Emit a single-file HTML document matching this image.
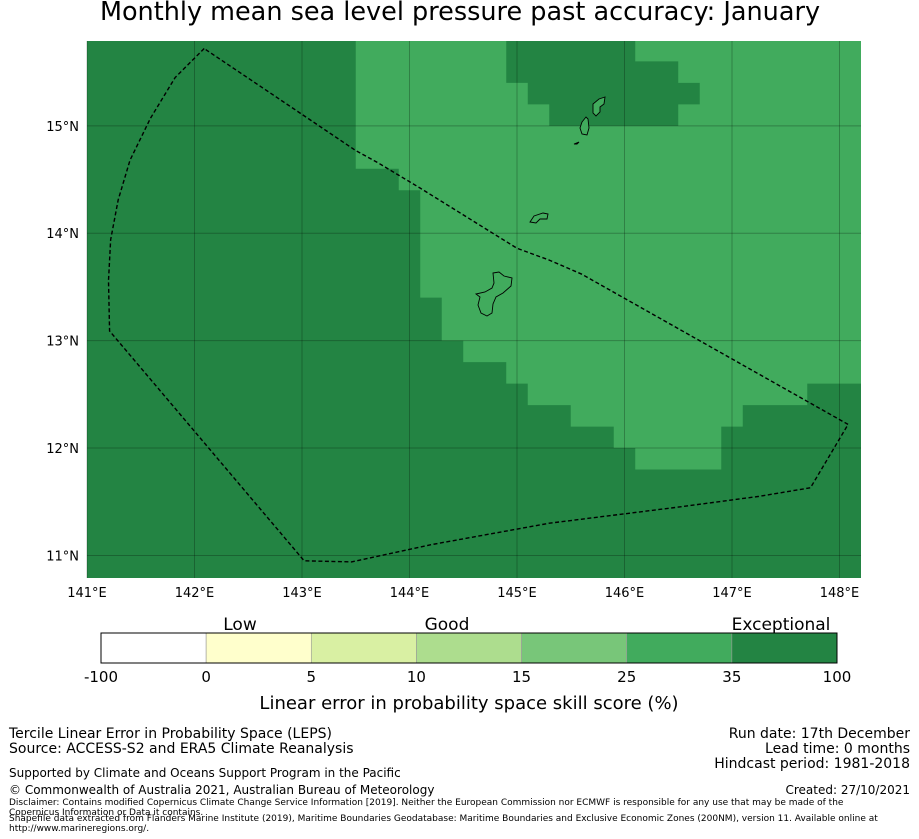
<!DOCTYPE html>
<html><head><meta charset="utf-8"><style>
body{margin:0;background:#fff;width:919px;height:839px;overflow:hidden;font-family:"DejaVu Sans","Liberation Sans",sans-serif;}
svg{display:block}
</style></head><body>
<svg width="919" height="839" xmlns="http://www.w3.org/2000/svg">
<text x="460" y="20" text-anchor="middle" font-size="25.5">Monthly mean sea level pressure past accuracy: January</text>
<g id="map"></g>
<g id="axes"></g>
<g id="cbar"></g>
<g font-size="14">
<text x="9" y="738">Tercile Linear Error in Probability Space (LEPS)</text>
<text x="9" y="753">Source: ACCESS-S2 and ERA5 Climate Reanalysis</text>
<text x="910" y="738" text-anchor="end">Run date: 17th December</text>
<text x="910" y="753" text-anchor="end">Lead time: 0 months</text>
<text x="910" y="768" text-anchor="end">Hindcast period: 1981-2018</text>
<text x="9" y="777" font-size="12">Supported by Climate and Oceans Support Program in the Pacific</text>
<text x="9" y="794" font-size="12">© Commonwealth of Australia 2021, Australian Bureau of Meteorology</text>
<text x="910" y="794" text-anchor="end" font-size="12">Created: 27/10/2021</text>
<text x="9" y="805" font-size="9">Disclaimer: Contains modified Copernicus Climate Change Service Information [2019]. Neither the European Commission nor ECMWF is responsible for any use that may be made of the</text>
<text x="9" y="815" font-size="9">Copernicus Information or Data it contains.</text>
<text x="9" y="821" font-size="9">Shapefile data extracted from Flanders Marine Institute (2019), Maritime Boundaries Geodatabase: Maritime Boundaries and Exclusive Economic Zones (200NM), version 11. Available online at</text>
<text x="9" y="831" font-size="9">http://www.marineregions.org/.</text>
</g>
</svg>
<script>
const NS="http://www.w3.org/2000/svg";
const lonMin=141,lonMax=148.2,latMin=10.79,latMax=15.79;
const X0=87,X1=861,Y0=41,Y1=578;
const lonTicks=[141,142,143,144,145,146,147,148];
const latTicks=[11,12,13,14,15];
// light (25-35) skill region outline, lon/lat
const goodLon=[143.5,144.9,144.9,145.1,145.1,145.3,145.3,146.5,146.5,146.7,146.7,146.5,146.5,146.1,146.1,148.2,148.2,147.7,147.7,147.1,147.1,146.9,146.9,146.1,146.1,145.9,145.9,145.5,145.5,145.1,145.1,144.9,144.9,144.5,144.5,144.3,144.3,144.1,144.1,143.9,143.9,143.5];
const goodLat=[15.79,15.79,15.4,15.4,15.2,15.2,15.0,15.0,15.2,15.2,15.4,15.4,15.6,15.6,15.79,15.79,12.6,12.6,12.4,12.4,12.2,12.2,11.8,11.8,12.0,12.0,12.2,12.2,12.4,12.4,12.6,12.6,12.8,12.8,13.0,13.0,13.4,13.4,14.4,14.4,14.6,14.6];
// EEZ boundary
const eezLon=[142.09,141.82,141.59,141.40,141.29,141.22,141.20,141.21,143.02,143.46,144.2,145.3,146.5,147.25,147.73,148.08,145.6,145.3,145.0,144.1,143.7,143.5,142.09];
const eezLat=[15.72,15.45,15.07,14.68,14.31,13.94,13.56,13.09,10.95,10.94,11.1,11.3,11.45,11.55,11.63,12.22,13.62,13.75,13.86,14.42,14.66,14.77,15.72];
const cbColors=["#ffffff","#ffffcc","#d9f0a3","#addd8e","#78c679","#41ab5d","#238443"];
const cbTicks=["-100","0","5","10","15","25","35","100"];
const px=l=>X0+(l-lonMin)/(lonMax-lonMin)*(X1-X0);
const py=l=>Y0+(latMax-l)/(latMax-latMin)*(Y1-Y0);
function mk(t,a,p){const e=document.createElementNS(NS,t);for(const k in a)e.setAttribute(k,a[k]);p.appendChild(e);return e;}
const map=document.getElementById('map'),axes=document.getElementById('axes'),cb=document.getElementById('cbar');
let r=mk('rect',{x:X0,y:Y0,width:X1-X0,height:Y1-Y0,fill:"#238443"},map);


let g=mk('polygon',{points:goodLon.map((v,i)=>px(v)+","+py(goodLat[i])).join(" "),fill:"#41ab5d"},map);


lonTicks.forEach(l=>{const x=px(l);
 let ln=mk('line',{x1:x,x2:x,y1:Y0,y2:Y1,stroke:"rgba(0,0,0,0.25)","stroke-width":1},map);
 
 
 let t=mk('text',{x:x,y:597,"text-anchor":"middle","font-size":13},axes);t.textContent=l+"°E";
 
 });
latTicks.forEach(l=>{const y=py(l);
 let ln=mk('line',{x1:X0,x2:X1,y1:y,y2:y,stroke:"rgba(0,0,0,0.25)","stroke-width":1},map);
 
 
 let t=mk('text',{x:79,y:y+5,"text-anchor":"end","font-size":13},axes);t.textContent=l+"°N";
 
 });
const islands=[
 "M493,273 L499,272 L504,276 L512,278 L511,286 L503,293 L496,297 L493,304 L492,313 L487,316 L481,313 L478,305 L480,297 L476,294 L485,292 L492,288 L494,283 Z",
 "M530,222 L534,216 L543,213 L548,214 L547,219 L540,219 L536,223 Z",
 "M593,104 L599,99 L605,97 L604,104 L600,107 L600,112 L596,116 L593,113 Z",
 "M582,122 L586,117 L588,119 L589,128 L587,135 L582,134 L580,128 Z",
 "M574,144 L579,142 L577,144 Z"];
islands.forEach(d=>{let p=mk('path',{d:d,fill:"#41ab5d",stroke:"#000","stroke-width":0.9},map);
 
 });
let e=mk('polyline',{points:eezLon.map((v,i)=>px(v)+","+py(eezLat[i])).join(" "),fill:"none",stroke:"#000","stroke-width":1.4,"stroke-dasharray":"4,2.5"},map);


const CX0=101,CX1=837,CY=633,CH=30,w=(CX1-CX0)/cbColors.length;
cbColors.forEach((c,i)=>{let s=mk('rect',{x:CX0+i*w,y:CY,width:w,height:CH,fill:c,stroke:"#999","stroke-width":0.6},cb);
 
 });
mk('rect',{x:CX0,y:CY,width:CX1-CX0,height:CH,fill:"none",stroke:"#000","stroke-width":1},cb);
cbTicks.forEach((t,i)=>{let x=CX0+i*w;
 let tx=mk('text',{x:x,y:682,"text-anchor":"middle","font-size":15},cb);tx.textContent=t;
 
 });
[["Low",240],["Good",447],["Exceptional",781]].forEach(([t,x])=>{let tx=mk('text',{x:x,y:630,"text-anchor":"middle","font-size":17},cb);tx.textContent=t;
 
 });
let ct=mk('text',{x:469,y:709,"text-anchor":"middle","font-size":18},cb);ct.textContent="Linear error in probability space skill score (%)";


</script>
</body></html>
